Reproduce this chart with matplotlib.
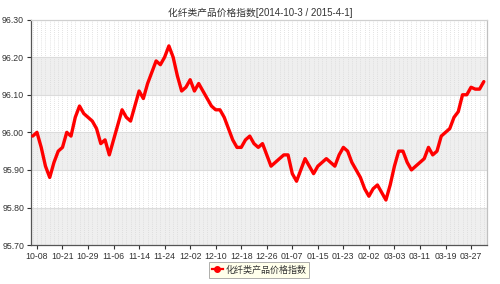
import matplotlib
matplotlib.use('Agg')
import matplotlib.pyplot as plt
from matplotlib.lines import Line2D

plt.rcParams['font.family'] = ['Liberation Sans', 'Noto Sans CJK SC', 'DejaVu Sans']

# index values, one per trading day
values = [
    95.99, 96.00, 95.96, 95.91, 95.88, 95.92, 95.95, 95.96, 96.00, 95.99,
    96.04, 96.07, 96.05, 96.04, 96.03, 96.01, 95.97, 95.98, 95.94, 95.98,
    96.02, 96.06, 96.04, 96.03, 96.07, 96.11, 96.09, 96.13, 96.16, 96.19,
    96.18, 96.20, 96.23, 96.20, 96.15, 96.11, 96.12, 96.14, 96.11, 96.13,
    96.11, 96.09, 96.07, 96.06, 96.06, 96.04, 96.01, 95.98, 95.96, 95.96,
    95.98, 95.99, 95.97, 95.96, 95.97, 95.94, 95.91, 95.92, 95.93, 95.94,
    95.94, 95.89, 95.87, 95.90, 95.93, 95.91, 95.89, 95.91, 95.92, 95.93,
    95.92, 95.91, 95.94, 95.96, 95.95, 95.92, 95.90, 95.88, 95.85, 95.83,
    95.85, 95.86, 95.84, 95.82, 95.86, 95.91, 95.95, 95.95, 95.92, 95.90,
    95.91, 95.92, 95.93, 95.96, 95.94, 95.95, 95.99, 96.00, 96.01, 96.04,
    96.055, 96.10, 96.10, 96.12, 96.115, 96.115, 96.135,
]

tick_labels = ['10-08', '10-21', '10-29', '11-06', '11-14', '11-24', '12-02',
               '12-10', '12-18', '12-26', '01-07', '01-15', '01-23', '02-02',
               '03-03', '03-11', '03-19', '03-27']
tick_step = 6
tick_start = 1

y_ticks = [95.70, 95.80, 95.90, 96.00, 96.10, 96.20, 96.30]

title = '化纤类产品价格指数[2014-10-3 / 2015-4-1]'
series_name = '化纤类产品价格指数'


def draw():
    fig = plt.figure(figsize=(5, 2.84), dpi=100)
    ax = fig.add_axes([0.062, 0.137, 0.912, 0.794])
    xs = list(range(len(values)))

    # alternating horizontal bands
    for k in range(len(y_ticks) - 1):
        if k % 2 == 0:
            ax.axhspan(y_ticks[k], y_ticks[k + 1], color='#efefef', zorder=0, lw=0)
    for y in y_ticks[1:-1]:
        ax.axhline(y, color='#dcdcdc', lw=0.8, zorder=1)
    # dotted vertical grid at every point
    for x in xs:
        ax.axvline(x, color='#d9d9d9', lw=0.6, ls=(0, (1, 1.5)), zorder=1)

    ax.plot(xs, values, color='#ff0000', lw=2.4, solid_joinstyle='round',
            solid_capstyle='round', zorder=3)

    ax.set_xlim(-0.4, len(values) - 0.25)
    ax.set_ylim(y_ticks[0], y_ticks[-1])
    ticks = [tick_start + tick_step * k for k in range(len(tick_labels))]
    ax.set_xticks(ticks)
    ax.set_xticklabels(tick_labels)
    ax.set_yticks(y_ticks)
    ax.set_yticklabels(['%.2f' % v for v in y_ticks])
    ax.tick_params(labelsize=6.3, colors='#333333', length=3, width=0.8, pad=2)

    ax.spines['left'].set_color('#555555')
    ax.spines['bottom'].set_color('#555555')
    ax.spines['top'].set_color('#d0d0d0')
    ax.spines['right'].set_color('#c0c0c0')
    for s in ax.spines.values():
        s.set_linewidth(0.9)

    fig.text(0.52, 0.955, title, ha='center', va='center', fontsize=7,
             color='#333333')

    handle = Line2D([], [], color='#ff0000', lw=1.6, marker='o', markersize=4)
    leg = fig.legend([handle], [series_name], loc='center',
                     bbox_to_anchor=(0.518, 0.05), fontsize=6.5,
                     frameon=True, fancybox=False, handlelength=1.2,
                     handletextpad=0.3, borderpad=0.35, borderaxespad=0)
    leg.get_frame().set_facecolor('#ffffe6')
    leg.get_frame().set_edgecolor('#999999')
    leg.get_frame().set_linewidth(0.7)
    for t in leg.get_texts():
        t.set_color('#333333')

    fig.savefig('out.png', dpi=100)


if __name__ == '__main__':
    draw()
